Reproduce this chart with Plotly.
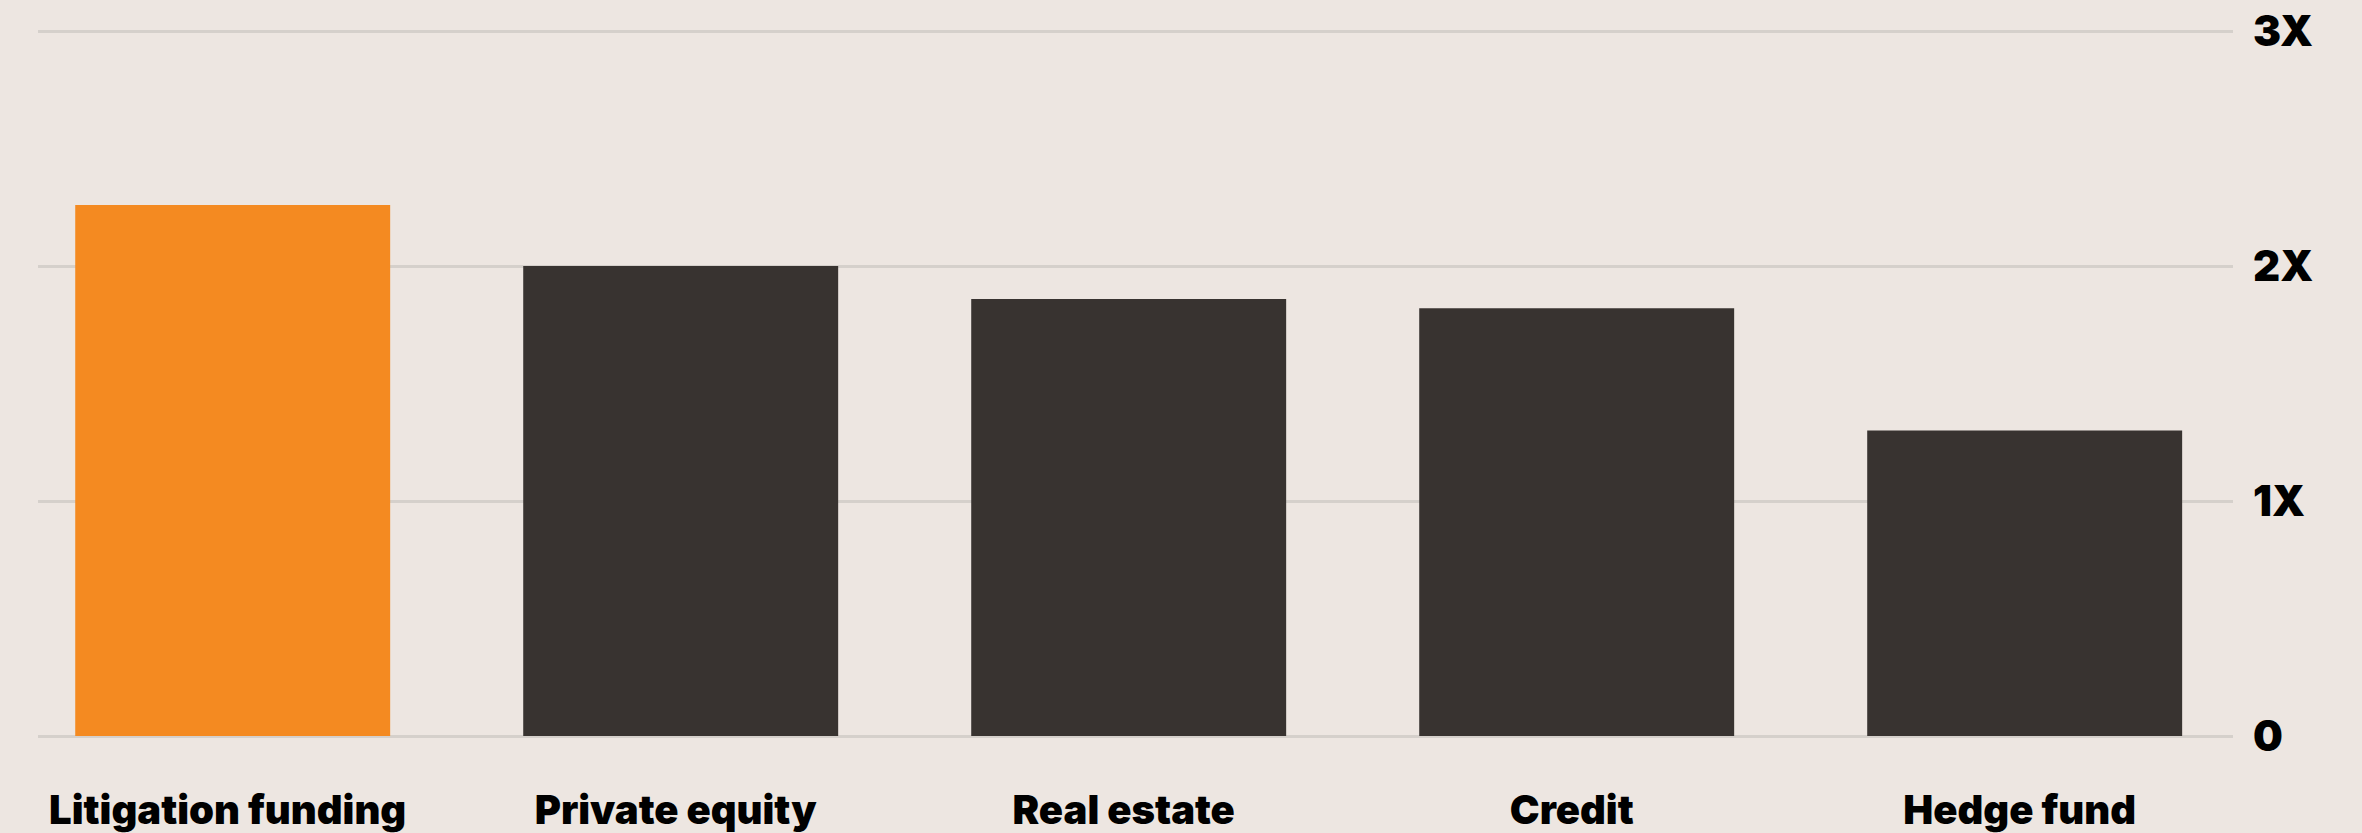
import plotly.graph_objects as go

categories = ["Litigation funding", "Private equity", "Real estate", "Credit", "Hedge fund"]
values = [2.26, 2.0, 1.86, 1.82, 1.3]
bar_colors = ["#F48A21", "#383330", "#383330", "#383330", "#383330"]
tick_vals = [0, 1, 2, 3]
tick_text = ["0", "1X", "2X", "3X"]

BG = "#EDE6E1"
GRID = "#D5D0CB"
FONT = "Inter"

fig = go.Figure(
    go.Bar(
        x=categories,
        y=values,
        marker=dict(color=bar_colors, line=dict(width=0)),
        hoverinfo="skip",
    )
)

fig.update_layout(
    width=2362,
    height=833,
    paper_bgcolor=BG,
    plot_bgcolor=BG,
    margin=dict(l=38, r=2362 - 2233, t=20, b=97, autoexpand=False),
    bargap=0.297,
    showlegend=False,
    font=dict(family=FONT, color="#000000"),
)

fig.update_xaxes(
    automargin=False,
    range=[-0.4346, 4.465],
    showgrid=False,
    showline=False,
    ticks="",
    tickfont=dict(family=FONT, size=40, color="#000000", weight=900),
    ticklabelstandoff=47,
    ticklabelshift=-5,
)

fig.update_yaxes(
    automargin=False,
    side="right",
    range=[0, 716 / 235.0],
    tickvals=tick_vals,
    ticktext=tick_text,
    showgrid=True,
    gridcolor=GRID,
    gridwidth=3,
    zeroline=True,
    zerolinecolor=GRID,
    zerolinewidth=3,
    showline=False,
    ticks="",
    tickfont=dict(family=FONT, size=42, color="#000000", weight=900),
    ticklabelstandoff=19,
)

fig.write_html("out.html")
